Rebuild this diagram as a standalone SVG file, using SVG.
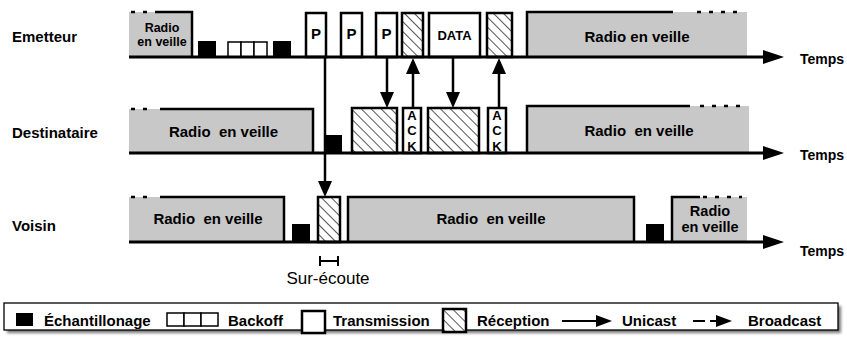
<svg xmlns="http://www.w3.org/2000/svg" width="847" height="341" viewBox="0 0 847 341">
  <style>
    text { font-family: "Liberation Sans", Arial, Helvetica, sans-serif; font-weight: bold; fill: #000; }
    .row { font-size: 15px; }
    .temps { font-size: 14px; }
    .sleep { fill: #c8c8c8; stroke: none; }
    .edge { stroke: #000; stroke-width: 2.5; fill: none; }
    .dots { stroke: #000; stroke-width: 2.5; fill: none; stroke-dasharray: 4 8; }
    .axis { stroke: #000; stroke-width: 3; fill: none; }
    .tx { fill: #fff; stroke: #000; stroke-width: 2.5; }
    .rx { fill: url(#hatch); stroke: #000; stroke-width: 2.5; }
    .sample { fill: #000; }
    .backoff { fill: #fff; stroke: #000; stroke-width: 1.5; }
    .conn { stroke: #000; stroke-width: 2.5; fill: none; marker-end: url(#ah); }
    .lbl { font-size: 15px; text-anchor: middle; }
    .lbl-s { font-size: 12.5px; text-anchor: middle; }
    .legend { font-size: 15px; }
    .note { font-size: 17px; font-weight: normal; text-anchor: middle; }
  </style>
  <defs>
    <pattern id="hatch" patternUnits="userSpaceOnUse" width="7" height="7" patternTransform="rotate(45)">
      <rect width="7" height="7" fill="#fff"/>
      <line x1="0" y1="3.5" x2="7" y2="3.5" stroke="#444" stroke-width="0.9"/>
    </pattern>
    <marker id="ah" viewBox="0 0 16 14" refX="4" refY="7" markerWidth="16" markerHeight="14" markerUnits="userSpaceOnUse" orient="auto">
      <path d="M0,0 L16,7 L0,14 z" fill="#000"/>
    </marker>
    <marker id="ahs" viewBox="0 0 16 12" refX="4" refY="6" markerWidth="16" markerHeight="12" markerUnits="userSpaceOnUse" orient="auto">
      <path d="M0,0 L16,6 L0,12 z" fill="#000"/>
    </marker>
    <filter id="shadow" x="-5%" y="-50%" width="110%" height="200%">
      <feGaussianBlur stdDeviation="1.5"/>
    </filter>
  </defs>

  <!-- ===== Emetteur timeline ===== -->
  <g id="emetteur">
    <text class="row" x="12" y="42">Emetteur</text>
    <g id="em-sleep-1">
      <rect class="sleep" x="129" y="12" width="63" height="45"/>
      <line class="dots" x1="131" y1="12" x2="152" y2="12"/>
      <path class="edge" d="M155,12 H192 V57"/>
      <text class="lbl-s" x="162" y="32">Radio</text>
      <text class="lbl-s" x="162" y="46">en veille</text>
    </g>
    <rect id="em-sample-1" class="sample" x="198" y="41" width="18" height="16"/>
    <g id="em-backoff">
      <rect class="backoff" x="228" y="42" width="13" height="15"/>
      <rect class="backoff" x="241" y="42" width="13" height="15"/>
      <rect class="backoff" x="254" y="42" width="13" height="15"/>
    </g>
    <rect id="em-sample-2" class="sample" x="273" y="41" width="18" height="16"/>
    <g id="em-p1"><rect class="tx" x="306" y="13" width="20" height="44"/><text class="lbl" x="316" y="39">P</text></g>
    <g id="em-p2"><rect class="tx" x="341" y="13" width="21" height="44"/><text class="lbl" x="351.5" y="39">P</text></g>
    <g id="em-p3"><rect class="tx" x="376" y="13" width="21" height="44"/><text class="lbl" x="386.5" y="39">P</text></g>
    <rect id="em-rx-1" class="rx" x="402" y="13" width="21" height="44"/>
    <g id="em-data"><rect class="tx" x="429" y="13" width="51" height="44"/><text x="454.5" y="40" font-size="13" text-anchor="middle">DATA</text></g>
    <rect id="em-rx-2" class="rx" x="487" y="13" width="25" height="44"/>
    <g id="em-sleep-2">
      <rect class="sleep" x="527" y="12" width="220" height="45"/>
      <path class="edge" d="M527,57 V12 H673"/>
      <line class="dots" x1="697" y1="12" x2="742" y2="12"/>
      <text class="lbl" x="637" y="42">Radio en veille</text>
    </g>
    <line class="axis" x1="129" y1="57" x2="766" y2="57"/>
    <path d="M763,50 L784,57 L763,64 z"/>
    <text class="temps" x="800" y="64">Temps</text>
  </g>

  <!-- ===== Destinataire timeline ===== -->
  <g id="destinataire">
    <text class="row" x="12" y="138">Destinataire</text>
    <g id="de-sleep-1">
      <rect class="sleep" x="129" y="109" width="184" height="44"/>
      <line class="dots" x1="131" y1="109" x2="152" y2="109"/>
      <path class="edge" d="M160,109 H313 V153"/>
      <text class="lbl" x="223.5" y="137" xml:space="preserve">Radio  en veille</text>
    </g>
    <rect id="de-sample" class="sample" x="324" y="135" width="18" height="18"/>
    <rect id="de-rx-1" class="rx" x="352" y="108" width="45" height="45"/>
    <g id="de-ack-1">
      <rect class="tx" x="403" y="108" width="18" height="45"/>
      <text x="412" y="120" font-size="13" text-anchor="middle">A</text>
      <text x="412" y="135" font-size="13" text-anchor="middle">C</text>
      <text x="412" y="151" font-size="13" text-anchor="middle">K</text>
    </g>
    <rect id="de-rx-2" class="rx" x="428" y="108" width="51" height="45"/>
    <g id="de-ack-2">
      <rect class="tx" x="488" y="108" width="18" height="45"/>
      <text x="497" y="120" font-size="13" text-anchor="middle">A</text>
      <text x="497" y="135" font-size="13" text-anchor="middle">C</text>
      <text x="497" y="151" font-size="13" text-anchor="middle">K</text>
    </g>
    <g id="de-sleep-2">
      <rect class="sleep" x="527" y="106" width="222" height="47"/>
      <path class="edge" d="M527,153 V106 H690"/>
      <line class="dots" x1="700" y1="106" x2="745" y2="106"/>
      <text class="lbl" x="639" y="136" xml:space="preserve">Radio  en veille</text>
    </g>
    <line class="axis" x1="129" y1="153" x2="766" y2="153"/>
    <path d="M763,146 L784,153 L763,160 z"/>
    <text class="temps" x="800" y="160">Temps</text>
  </g>

  <!-- ===== Voisin timeline ===== -->
  <g id="voisin">
    <text class="row" x="12" y="231">Voisin</text>
    <g id="vo-sleep-1">
      <rect class="sleep" x="129" y="197" width="155" height="45"/>
      <line class="dots" x1="131" y1="197" x2="152" y2="197"/>
      <path class="edge" d="M160,197 H284 V242"/>
      <text class="lbl" x="208" y="224" xml:space="preserve">Radio  en veille</text>
    </g>
    <rect id="vo-sample-1" class="sample" x="292" y="224" width="18" height="18"/>
    <rect id="vo-rx" class="rx" x="318" y="197" width="22" height="45"/>
    <g id="vo-sleep-2">
      <rect class="sleep" x="348" y="197" width="286" height="45"/>
      <path class="edge" d="M348,242 V197 H634 V242"/>
      <text class="lbl" x="491" y="224" xml:space="preserve">Radio  en veille</text>
    </g>
    <rect id="vo-sample-2" class="sample" x="646" y="224" width="18" height="18"/>
    <g id="vo-sleep-3">
      <rect class="sleep" x="672" y="197" width="75" height="45"/>
      <path class="edge" d="M672,242 V197 H700"/>
      <line class="dots" x1="703" y1="197" x2="742" y2="197"/>
      <text x="710" y="216" font-size="14.5" text-anchor="middle">Radio</text>
      <text x="710" y="232" font-size="14.5" text-anchor="middle">en veille</text>
    </g>
    <line class="axis" x1="129" y1="242" x2="766" y2="242"/>
    <path d="M763,235 L784,242 L763,249 z"/>
    <text class="temps" x="800" y="256">Temps</text>
  </g>

  <!-- ===== Overhearing window ===== -->
  <g id="sur-ecoute">
    <path d="M320,256 V266 M338,256 V266 M320,261 H338" stroke="#000" stroke-width="2" fill="none"/>
    <text class="note" x="328" y="284">Sur-écoute</text>
  </g>

  <!-- ===== Message exchanges ===== -->
  <g id="connectors">
    <line class="conn" x1="325" y1="57" x2="325" y2="185"/>
    <line class="conn" x1="387" y1="57" x2="387" y2="96"/>
    <line class="conn" x1="413" y1="108" x2="413" y2="70"/>
    <line class="conn" x1="453" y1="57" x2="453" y2="96"/>
    <line class="conn" x1="499" y1="108" x2="499" y2="70"/>
  </g>

  <!-- ===== Legend ===== -->
  <g id="legend">
    <rect x="7" y="306" width="834" height="27" fill="#777" filter="url(#shadow)"/>
    <rect x="4" y="303" width="834" height="27" fill="#fff" stroke="#000" stroke-width="1.3"/>
    <rect class="sample" x="16" y="313" width="17" height="13"/>
    <text class="legend" x="44" y="326">Échantillonage</text>
    <rect class="backoff" x="167" y="313" width="17" height="13" stroke-width="1.2"/>
    <rect class="backoff" x="184" y="313" width="17" height="13" stroke-width="1.2"/>
    <rect class="backoff" x="201" y="313" width="17" height="13" stroke-width="1.2"/>
    <text class="legend" x="228" y="326">Backoff</text>
    <rect class="tx" x="302" y="311" width="23" height="22"/>
    <text class="legend" x="333" y="326">Transmission</text>
    <rect class="rx" x="443" y="309" width="23" height="23" stroke-width="2"/>
    <text class="legend" x="477" y="326">Réception</text>
    <line x1="562" y1="321" x2="600" y2="321" stroke="#000" stroke-width="2" marker-end="url(#ahs)"/>
    <text class="legend" x="622" y="326">Unicast</text>
    <line x1="693" y1="321" x2="705" y2="321" stroke="#000" stroke-width="2"/>
    <line x1="710" y1="321" x2="720" y2="321" stroke="#000" stroke-width="2" marker-end="url(#ahs)"/>
    <text class="legend" x="748" y="326">Broadcast</text>
  </g>
</svg>
